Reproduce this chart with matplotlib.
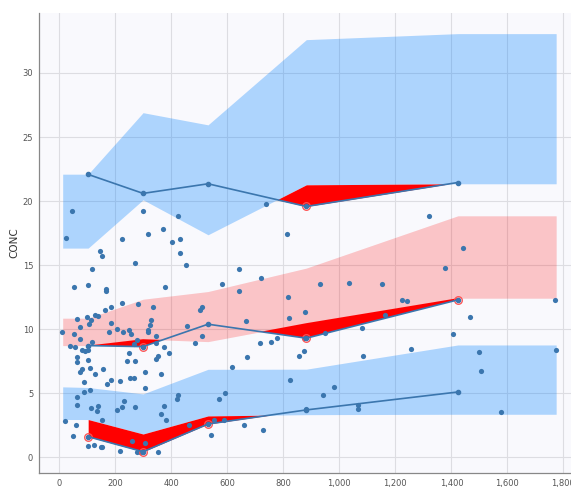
import numpy as np
import matplotlib.pyplot as plt
from matplotlib.ticker import FuncFormatter

# Observed data
obs_time = [44, 25, 300, 223, 318, 369, 401, 145, 152, 269, 116, 54, 104, 166, 167, 377,
            224, 280, 184, 164, 336, 129, 139, 100, 62, 112, 107, 184, 327, 324, 75, 207,
            249, 318, 11, 52, 74, 118, 176, 226, 255, 277, 317, 344, 345, 374, 393, 37,
            56, 80, 92, 104, 265, 62, 64, 103, 80, 74, 110, 155, 126, 248, 241, 270, 351,
            345, 306, 363, 184, 171, 216, 251, 268, 89, 307, 109, 89, 63, 64, 231, 137,
            113, 134, 223, 206, 270, 374, 363, 381, 152, 20, 61, 48, 104, 125, 148, 154,
            260, 307, 218, 279, 289, 354, 739, 424, 431, 430, 813, 451, 641, 720, 580,
            643, 817, 509, 504, 820, 667, 456, 510, 486, 717, 756, 776, 670, 857, 616,
            824, 423, 420, 592, 570, 462, 554, 589, 660, 726, 542, 1320, 1441, 1376, 932,
            1036, 1153, 1224, 1243, 1771, 877, 1162, 1467, 1080, 949, 1407, 1257, 875,
            1084, 1497, 1506, 1773, 981, 941, 882, 1066, 1066, 1578, 875]
obs_conc = [19.24, 17.13, 19.24, 17.03, 17.42, 17.84, 16.82, 16.12, 15.7, 15.16, 14.73,
            13.33, 13.44, 13.12, 13.02, 13.33, 12.05, 12.0, 11.72, 11.51, 11.72, 11.14,
            11.01, 10.94, 10.8, 10.7, 10.41, 10.52, 10.7, 10.31, 10.18, 10.05, 9.97, 9.97,
            9.79, 9.63, 9.24, 9.03, 9.79, 9.81, 9.63, 9.14, 9.81, 9.5, 8.95, 8.59, 8.15,
            8.72, 8.59, 8.38, 8.33, 8.38, 8.83, 7.86, 7.47, 7.63, 6.92, 6.64, 7.0, 6.92,
            6.51, 8.12, 7.52, 7.5, 7.94, 7.7, 6.64, 6.51, 6.06, 5.73, 5.98, 6.22, 6.22,
            5.86, 5.39, 5.23, 5.13, 4.73, 4.11, 4.4, 4.03, 3.83, 3.64, 3.93, 3.72, 3.91,
            4.03, 3.41, 2.91, 2.94, 2.84, 2.55, 1.64, 0.91, 0.96, 0.83, 0.8, 1.3, 1.12,
            0.52, 0.44, 0.44, 0.41, 19.81, 18.8, 17.03, 15.91, 17.42, 15.02, 14.71, 14.01,
            13.51, 12.99, 12.55, 11.74, 11.51, 10.91, 10.65, 10.26, 9.5, 8.93, 8.9, 9.0,
            9.29, 7.81, 7.91, 7.03, 6.04, 4.84, 4.58, 5.05, 4.53, 2.52, 2.91, 2.91, 2.52,
            2.11, 1.72, 18.8, 16.3, 14.81, 13.51, 13.62, 13.51, 12.31, 12.21, 12.31, 11.33,
            11.12, 10.96, 10.08, 9.73, 9.63, 8.44, 8.33, 7.94, 8.23, 6.72, 8.41, 5.52,
            4.84, 3.75, 4.09, 3.75, 3.52, 9.3]

# Bin midpoints and observed percentiles
bin_time = [103, 299, 531, 882, 1423]
obs_p95 = [22.08, 20.6, 21.35, 19.58, 21.45]
obs_p50 = [8.72, 8.64, 10.39, 9.3, 12.29]
obs_p05 = [1.61, 0.44, 2.6, 3.7, 5.1]

# Simulated prediction intervals (band edges include first/last time)
band_time = [12, 103, 299, 531, 882, 1423, 1774]
p95_lo = [16.33, 16.33, 20.1, 17.37, 21.27, 21.35, 21.35]
p95_hi = [22.1, 22.1, 26.9, 25.95, 32.6, 33.07, 33.07]
p50_lo = [8.72, 8.72, 9.22, 9.03, 10.47, 12.42, 12.42]
p50_hi = [10.86, 10.86, 12.34, 12.94, 14.77, 18.85, 18.85]
p05_lo = [2.95, 2.95, 1.82, 3.23, 3.33, 3.36, 3.36]
p05_hi = [5.5, 5.45, 4.95, 6.87, 6.88, 8.77, 8.77]

blue = '#3b76ae'

fig = plt.figure(figsize=(5.71, 4.9), dpi=100)
ax = fig.add_axes([0.0678, 0.034, 0.9322, 0.940])
ax.set_facecolor('#f9f9fd')

ax.fill_between(band_time, p95_lo, p95_hi, color=(0.0, 0.5, 1.0), alpha=0.3, lw=0, zorder=2)
ax.fill_between(band_time, p50_lo, p50_hi, color=(1.0, 0.0, 0.0), alpha=0.21, lw=0, zorder=2)
ax.fill_between(band_time, p05_lo, p05_hi, color=(0.0, 0.5, 1.0), alpha=0.3, lw=0, zorder=2)

# red areas where observed percentile falls outside the simulated interval
bt = np.array(bin_time, dtype=float)
for obs, lo, hi in [(obs_p95, p95_lo, p95_hi), (obs_p50, p50_lo, p50_hi), (obs_p05, p05_lo, p05_hi)]:
    xs = np.linspace(bt[0], bt[-1], 2000)
    o = np.interp(xs, bt, obs)
    l = np.interp(xs, band_time, lo)
    h = np.interp(xs, band_time, hi)
    ax.fill_between(xs, o, l, where=o < l, color='red', lw=0, zorder=3)
    ax.fill_between(xs, o, h, where=o > h, color='red', lw=0, zorder=3)
    ob = np.array(obs)
    lb = np.interp(bt, band_time, lo)
    hb = np.interp(bt, band_time, hi)
    out = (ob < lb) | (ob > hb)
    ax.plot(bt[out], ob[out], 'o', ms=5.5, mfc='none', mec='#ff5050', mew=0.9, zorder=5)
    ax.plot(bt, ob, '-o', color=blue, lw=1.2, ms=3.0, zorder=6)

ax.scatter(obs_time, obs_conc, s=14, color=blue, lw=0, zorder=4)

ax.set_xlim(-73.6, 1827)
ax.set_ylim(-1.25, 34.7)
ax.set_xticks(range(0, 2000, 200))
ax.set_yticks(range(0, 35, 5))
ax.xaxis.set_major_formatter(FuncFormatter(lambda v, p: f'{int(v):,}'))
ax.grid(True, color='#dddde2', lw=0.8, zorder=1)
ax.set_axisbelow(True)
ax.tick_params(length=0, labelsize=6, colors='#555555', pad=4)
for s in ['top', 'right']:
    ax.spines[s].set_visible(False)
for s in ['left', 'bottom']:
    ax.spines[s].set_color('#888888')
    ax.spines[s].set_linewidth(0.9)
ax.set_ylabel('CONC', fontsize=7.5, color='#333333', labelpad=2)
ax.set_xlabel('time', fontsize=7.5, color='#333333', labelpad=2)

fig.savefig('out.png', dpi=100)
